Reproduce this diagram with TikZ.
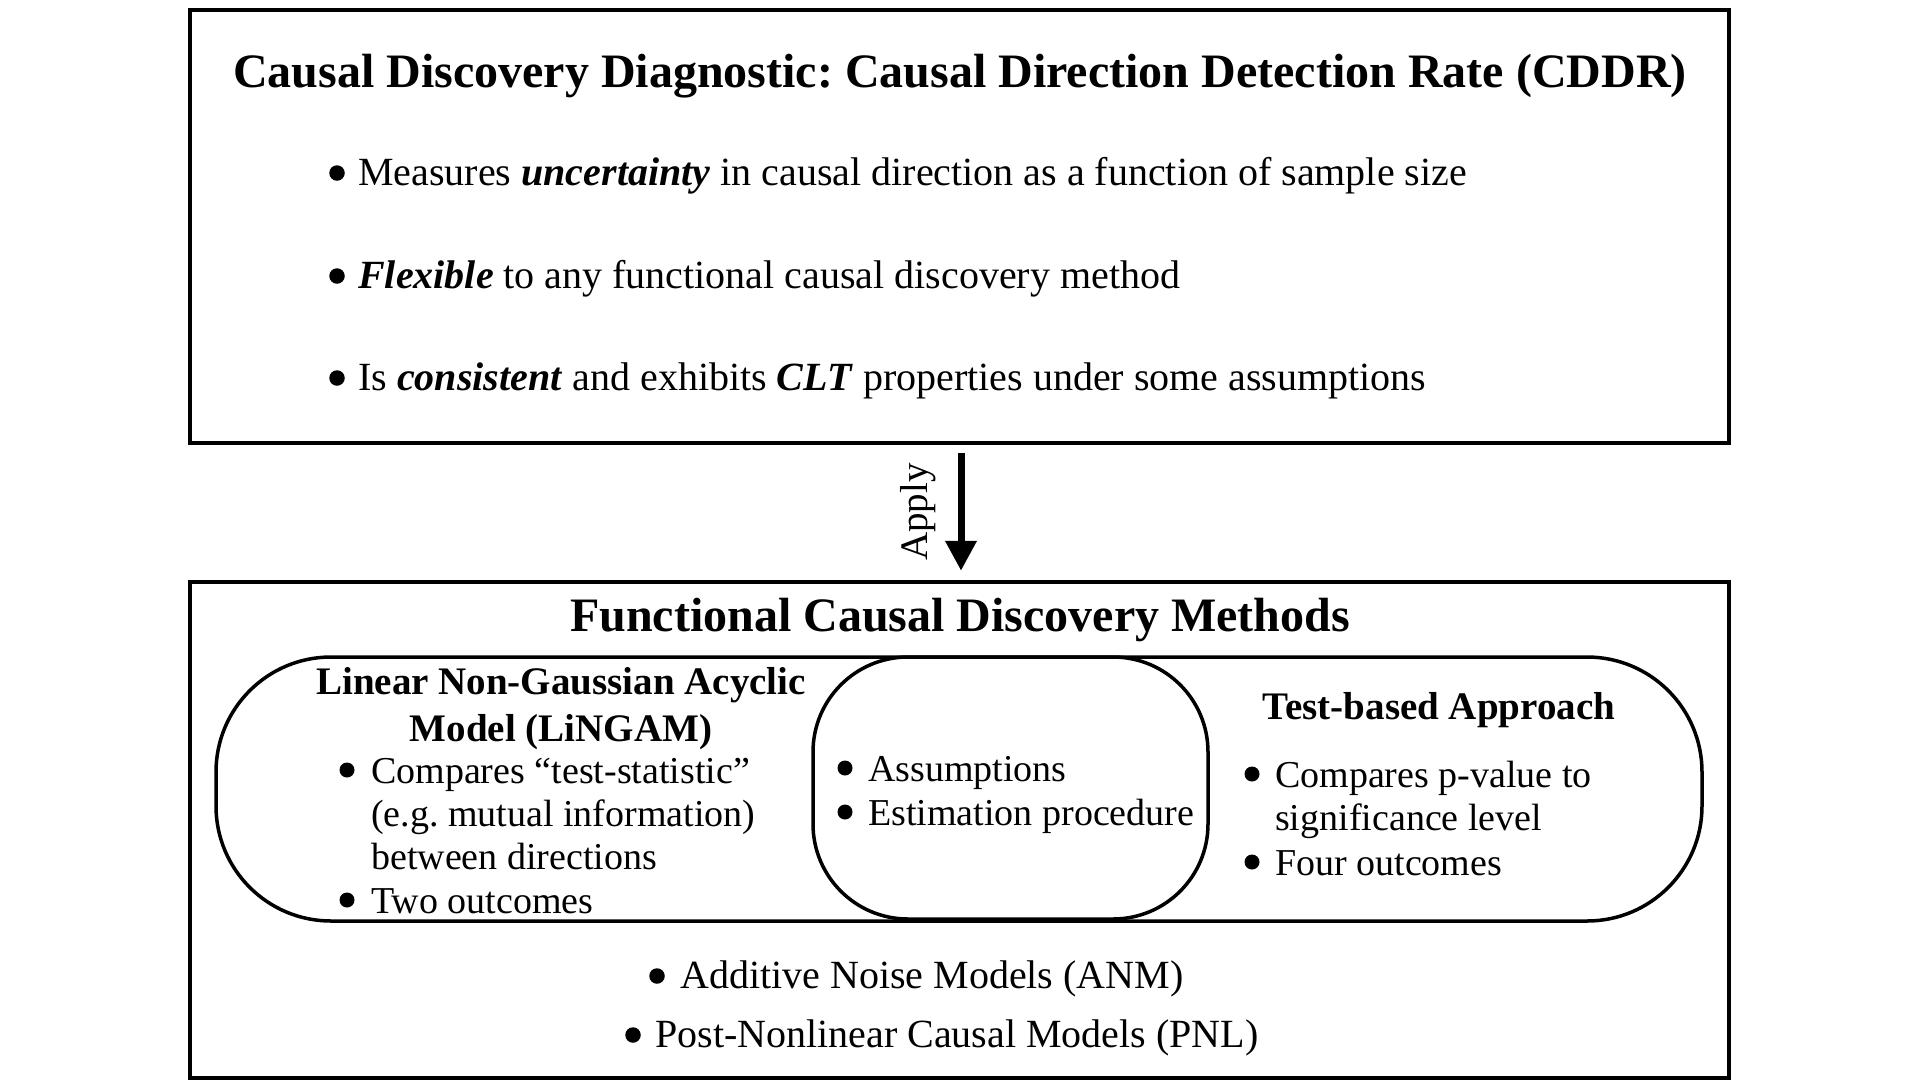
\documentclass[tikz,border=0pt]{standalone}
\usepackage{fontspec}
\setmainfont{Liberation Serif}
\usetikzlibrary{arrows.meta}
\frenchspacing
\begin{document}
\begin{tikzpicture}[x=1pt,y=-1pt,
  frame/.style={draw, line width=4.5pt, inner sep=0pt},
  lane/.style={draw, line width=3.5pt, inner sep=0pt},
  ttl/.style={anchor=base, inner sep=0pt, font=\fontsize{48}{56}\selectfont\bfseries},
  sub/.style={anchor=base, inner sep=0pt, font=\fontsize{39}{46}\selectfont\bfseries},
  bigtxt/.style={anchor=base west, inner sep=0pt, font=\fontsize{40}{48}\selectfont},
  smalltxt/.style={anchor=base west, inner sep=0pt, font=\fontsize{38}{46}\selectfont},
  dot/.style={circle, fill=black, inner sep=0pt, minimum size=15.5pt},
  conn/.style={line width=7pt, -{Triangle[width=30pt,length=30pt]}}]
\useasboundingbox (0,0) rectangle (1920,1080);
\fill[white] (0,0) rectangle (1920,1080);

% top box
\node[frame, minimum width=1539pt, minimum height=433pt] (topbox) at (959.5,226.5) {};
\node[ttl] (toptitle) at (960,87) {Causal Discovery Diagnostic: Causal Direction Detection Rate (CDDR)};
\node[bigtxt] (t1) at (358,185) {Measures \textbf{\textit{uncertainty}} in causal direction as a function of sample size};
\node[bigtxt] (t2) at (358,288) {\textbf{\textit{Flexible}} to any functional causal discovery method};
\node[bigtxt] (t3) at (358,390) {Is \textbf{\textit{consistent}} and exhibits \textbf{\textit{CLT}} properties under some assumptions};
\node[dot] (d1) at (337,173) {};
\node[dot] (d2) at (337,276) {};
\node[dot] (d3) at (337,378) {};

% bottom box
\node[frame, minimum width=1539pt, minimum height=496pt] (botbox) at (959.5,830) {};
\node[ttl] (bottitle) at (960,631) {Functional Causal Discovery Methods};

% lanes
\node[lane, rounded corners=115pt, minimum width=1486pt, minimum height=264pt] (outer) at (959,789) {};
\node[lane, rounded corners=95pt, minimum width=395pt, minimum height=262pt] (inner) at (1010.5,788) {};

% left: LiNGAM
\node[sub] (lh1) at (561,694) {Linear Non-Gaussian Acyclic};
\node[sub] (lh2) at (561,741) {Model (LiNGAM)};
\node[smalltxt] (l1) at (371,783) {Compares “test-statistic”};
\node[smalltxt] (l2) at (371,826) {(e.g. mutual information)};
\node[smalltxt] (l3) at (371,869) {between directions};
\node[smalltxt] (l4) at (371,913) {Two outcomes};
\node[dot, minimum size=15pt] (dl1) at (347,770) {};
\node[dot, minimum size=15pt] (dl4) at (347,900) {};

% middle
\node[smalltxt] (m1) at (868,781) {Assumptions};
\node[smalltxt] (m2) at (868,825) {Estimation procedure};
\node[dot, minimum size=15pt] (dm1) at (845,768) {};
\node[dot, minimum size=15pt] (dm2) at (845,812) {};

% right: test-based
\node[sub] (rh) at (1439,719) {Test-based Approach};
\node[smalltxt] (r1) at (1275,787) {Compares p-value to};
\node[smalltxt] (r2) at (1275,830) {significance level};
\node[smalltxt] (r3) at (1275,875) {Four outcomes};
\node[dot, minimum size=15pt] (dr1) at (1252,774) {};
\node[dot, minimum size=15pt] (dr3) at (1252,862) {};

% bottom list
\node[bigtxt] (b1) at (680,988) {Additive Noise Models (ANM)};
\node[bigtxt] (b2) at (655,1047) {Post-Nonlinear Causal Models (PNL)};
\node[dot] (db1) at (657,976) {};
\node[dot] (db2) at (633,1035) {};

% arrow
\draw[conn, shorten <=8pt, shorten >=9pt] ([xshift=1.5pt]topbox.south) -- ([xshift=1.5pt]botbox.north);
\node[rotate=90, inner sep=0pt, font=\fontsize{39}{46}\selectfont] (apply) at (918,512) {Apply};
\end{tikzpicture}
\end{document}
